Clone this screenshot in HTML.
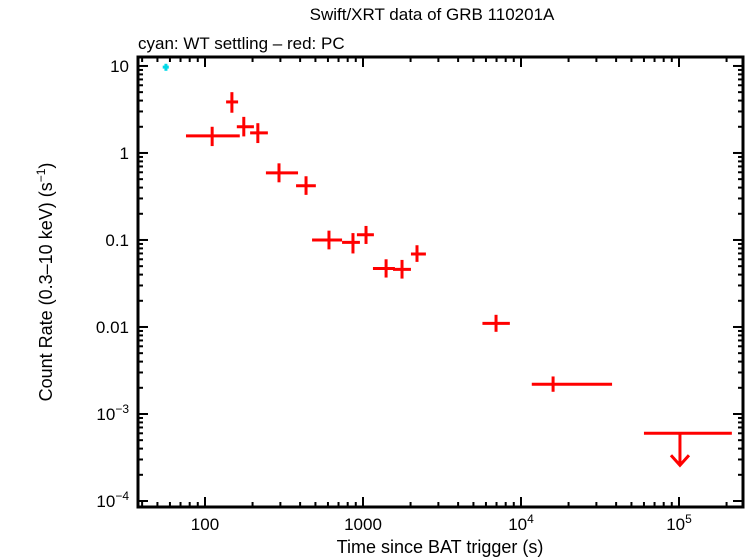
<!DOCTYPE html>
<html><head><meta charset="utf-8"><style>
body{margin:0;background:#fff}
svg{display:block;font-family:"Liberation Sans",sans-serif}
</style></head><body>
<svg id="c" width="746" height="558" xmlns="http://www.w3.org/2000/svg">
<text x="432" y="20" font-size="17" text-anchor="middle">Swift/XRT data of GRB 110201A</text>
<text x="138" y="49" font-size="17">cyan: WT settling – red: PC</text>
<text x="440" y="553" font-size="18" text-anchor="middle">Time since BAT trigger (s)</text>
<text transform="translate(52,282) rotate(-90)" font-size="18" text-anchor="middle">Count Rate (0.3–10 keV) (s<tspan dy="-7" font-size="12">−1</tspan><tspan dy="7">)</tspan></text>
<g id="axes"></g>
<g id="marks"></g>
<rect x="138" y="57" width="605" height="450" fill="none" stroke="#000" stroke-width="3"/>
</svg>
<script>
const wtT=[56.6], wtTLo=[54], wtTHi=[59], wtR=[9.7], wtRLo=[8.8], wtRHi=[10.6];
const pcT=[111,148,176,216,294,436,609,864,1045,1400,1766,2197,6950,15960];
const pcTLo=[75.8,136,159,193,243,377,476,737,915,1156,1549,2011,5700,11700];
const pcTHi=[166,162,204,250,388,503,737,956,1172,1592,2011,2501,8500,37700];
const pcR=[1.57,3.86,2.0,1.7,0.59,0.42,0.1,0.094,0.115,0.047,0.046,0.069,0.011,0.0022];
const pcRLo=[1.2,2.9,1.55,1.3,0.46,0.33,0.078,0.07,0.09,0.037,0.036,0.056,0.0088,0.0018];
const pcRHi=[2.0,5.0,2.6,2.2,0.76,0.54,0.128,0.12,0.145,0.06,0.059,0.087,0.0138,0.0027];
const ulT=[101400], ulTLo=[60000], ulTHi=[216000], ulR=[0.0006];
const xTickVals=[100,1000,1e4,1e5], xTickLabels=["100","1000","10^4","10^5"];
const yTickVals=[10,1,0.1,0.01,1e-3,1e-4], yTickLabels=["10","1","0.1","0.01","10^-3","10^-4"];
const X0=138,X1=743,Y0=57,Y1=507,XL0=1.576,XL1=5.405,YL0=-4.069,YL1=1.103;
function xs(v){return X0+(Math.log10(v)-XL0)/(XL1-XL0)*(X1-X0);}
function ys(v){return Y1-(Math.log10(v)-YL0)/(YL1-YL0)*(Y1-Y0);}
const NS="http://www.w3.org/2000/svg";
function mk(tag,attrs,parent){const e=document.createElementNS(NS,tag);for(const k in attrs)e.setAttribute(k,attrs[k]);parent.appendChild(e);return e;}
const ax=document.getElementById('axes'), mg=document.getElementById('marks');
function lbl(s,x,y,anchor,parent){
  const t=mk('text',{x:x,y:y,'font-size':17,'text-anchor':anchor},parent);
  if(s.includes('^')){const [b,e]=s.split('^');t.textContent=b;const sp=mk('tspan',{dy:-7,'font-size':12},t);sp.textContent=e.replace('-','−');}
  else t.textContent=s;
  return t;
}
for(let d=1;d<=5;d++)for(let m=1;m<10;m++){const v=m*Math.pow(10,d);if(v<37.7||v>254000)continue;const x=xs(v),L=m===1?10:5;
  const t1=mk('line',{x1:x,x2:x,y1:Y1,y2:Y1-L,stroke:'#000','stroke-width':2},ax);
  
  const t2=mk('line',{x1:x,x2:x,y1:Y0,y2:Y0+L,stroke:'#000','stroke-width':2},ax);
  }
for(let d=-4;d<=1;d++)for(let m=1;m<10;m++){const v=m*Math.pow(10,d);if(v<8.5e-5||v>12.6)continue;const y=ys(v),L=m===1?10:5;
  const t1=mk('line',{x1:X0,x2:X0+L,y1:y,y2:y,stroke:'#000','stroke-width':2},ax);
  
  const t2=mk('line',{x1:X1,x2:X1-L,y1:y,y2:y,stroke:'#000','stroke-width':2},ax);
  }
xTickVals.forEach((v,i)=>{const t=lbl(xTickLabels[i],xs(v),530,'middle',ax);
  });
yTickVals.forEach((v,i)=>{const t=lbl(yTickLabels[i],129,ys(v)+6,'end',ax);
  });
function cross(T,TL,TH,R,RL,RH,col,w,name){
  for(let i=0;i<T.length;i++){const g=mk('g',{stroke:col,'stroke-width':w},mg);
    
    mk('line',{x1:xs(TL[i]),x2:xs(TH[i]),y1:ys(R[i]),y2:ys(R[i])},g);
    mk('line',{x1:xs(T[i]),x2:xs(T[i]),y1:ys(RL[i]),y2:ys(RH[i])},g);}
}
cross(wtT,wtTLo,wtTHi,wtR,wtRLo,wtRHi,'#00d8e8',3,'wt-point');
cross(pcT,pcTLo,pcTHi,pcR,pcRLo,pcRHi,'#ff0000',3,'pc-point');
ulT.forEach((t,i)=>{const g=mk('g',{stroke:'#ff0000','stroke-width':3,fill:'none'},mg);
  
  const y=ys(ulR[i]),x=xs(t);
  mk('line',{x1:xs(ulTLo[i]),x2:xs(ulTHi[i]),y1:y,y2:y},g);
  mk('line',{x1:x,x2:x,y1:y,y2:y+32},g);
  mk('polyline',{points:`${x-9},${y+22} ${x},${y+32} ${x+9},${y+22}`},g);});
</script>
</body></html>
